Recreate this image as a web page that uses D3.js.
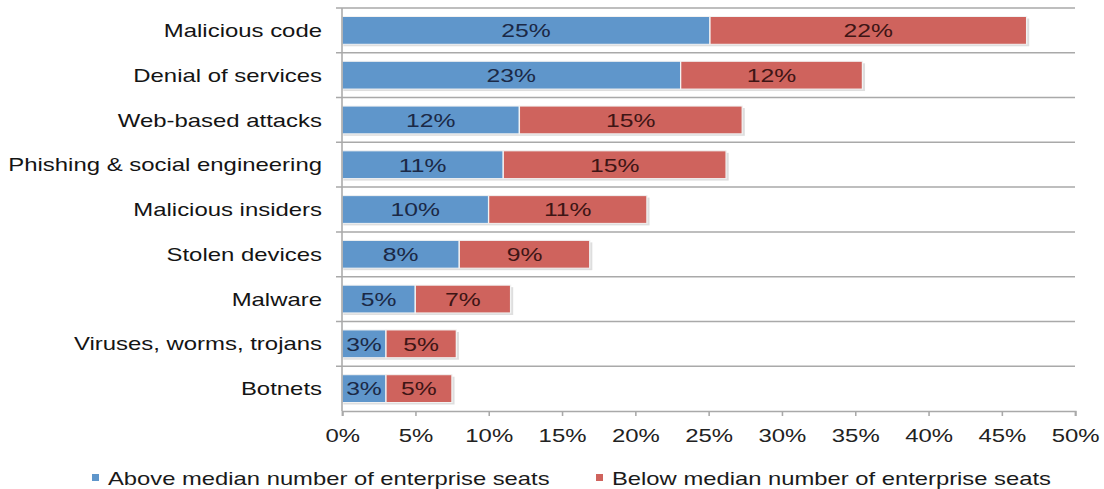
<!DOCTYPE html>
<html lang="en">
<head>
    <meta charset="UTF-8">
    <title>Security threats by enterprise size</title>
    <script src="https://d3js.org/d3.v7.min.js"></script>
    <style>
        body { margin: 0; background: #fff; }
        svg { display: block; }
        text { font-family: "Liberation Sans", Arial, sans-serif; }
    </style>
</head>
<body>
    <svg id="chart"></svg>
    <script>
        const categories = ["Malicious code", "Denial of services", "Web-based attacks",
            "Phishing & social engineering", "Malicious insiders", "Stolen devices",
            "Malware", "Viruses, worms, trojans", "Botnets"];
        const aboveMedian = [25.1, 23.1, 12.1, 11.0, 10.0, 8.0, 5.0, 3.0, 3.0];
        const belowMedian = [21.6, 12.4, 15.2, 15.2, 10.8, 8.9, 6.5, 4.8, 4.5];
        const xTicks = [0, 5, 10, 15, 20, 25, 30, 35, 40, 45, 50];
        const seriesNames = ["Above median number of enterprise seats", "Below median number of enterprise seats"];
        const colors = ["#5f96cb", "#cf635d"];
        const labelColors = ["#1b2946", "#3e1515"];

        // the original is horizontally stretched, so draw narrow and stretch the viewBox
        const sx = 1.3;
        const width = 1104 / sx, height = 489;
        const svg = d3.select("#chart")
            .attr("width", 1104).attr("height", height)
            .attr("viewBox", `0 0 ${width} ${height}`)
            .attr("preserveAspectRatio", "none");

        const plotLeft = 342 / sx, plotRight = 1075 / sx, plotTop = 8, plotBottom = 411;

        const x = d3.scaleLinear().domain([0, 50]).range([plotLeft, plotRight]);
        const y = d3.scaleBand().domain(categories).range([plotTop, plotBottom])
            .paddingInner(0.38).paddingOuter(0.19);
        const step = y.step();

        // horizontal grid lines at row boundaries
        const bounds = d3.range(categories.length).map(i => plotTop + i * step);
        svg.append("g").selectAll("line").data(bounds).join("line")
            .attr("x1", plotLeft - 6 / sx).attr("x2", plotRight)
            .attr("y1", d => d).attr("y2", d => d)
            .attr("stroke", "#a9a9a9").attr("stroke-width", 1.5);

        // bar shadows
        svg.append("g").selectAll("rect").data(categories).join("rect")
            .attr("x", x(0) + 1)
            .attr("y", d => y(d) + 2)
            .attr("width", (d, i) => x(aboveMedian[i] + belowMedian[i]) - x(0) + 1)
            .attr("height", y.bandwidth())
            .attr("fill", "#c8c8c8").attr("opacity", 0.6);

        const stacks = [
            categories.map((c, i) => ({ c, x0: 0, x1: aboveMedian[i], v: aboveMedian[i] })),
            categories.map((c, i) => ({ c, x0: aboveMedian[i], x1: aboveMedian[i] + belowMedian[i], v: belowMedian[i] }))
        ];

        stacks.forEach((rows, s) => {
            const g = svg.append("g");
            g.selectAll("rect").data(rows).join("rect")
                .attr("x", d => x(d.x0))
                .attr("y", d => y(d.c))
                .attr("width", d => x(d.x1) - x(d.x0))
                .attr("height", y.bandwidth())
                .attr("fill", colors[s])
                .attr("stroke", "#f2f2f2").attr("stroke-width", 1);
            g.selectAll("text").data(rows).join("text")
                .attr("x", d => x((d.x0 + d.x1) / 2))
                .attr("y", d => y(d.c) + y.bandwidth() / 2)
                .attr("dy", "0.36em")
                .attr("text-anchor", "middle")
                .attr("font-size", 19)
                .attr("fill", labelColors[s])
                .text(d => Math.round(d.v) + "%");
        });

        // y axis line
        svg.append("line")
            .attr("x1", plotLeft).attr("x2", plotLeft).attr("y1", plotTop).attr("y2", plotBottom)
            .attr("stroke", "#a9a9a9").attr("stroke-width", 1.2);

        // category labels
        svg.append("g").selectAll("text").data(categories).join("text")
            .attr("x", plotLeft - 20 / sx)
            .attr("y", d => y(d) + y.bandwidth() / 2)
            .attr("dy", "0.36em")
            .attr("text-anchor", "end")
            .attr("font-size", 18.4)
            .attr("fill", "#141414")
            .text(d => d);

        // x axis
        const xAxis = svg.append("g")
            .attr("transform", `translate(0,${plotBottom})`)
            .call(d3.axisBottom(x).tickValues(xTicks).tickSize(5).tickPadding(13)
                .tickFormat(d => d + "%"));
        xAxis.select(".domain").attr("stroke", "#a9a9a9").attr("stroke-width", 1.5);
        xAxis.selectAll(".tick line").attr("stroke", "#a9a9a9").attr("stroke-width", 1.2);
        xAxis.selectAll(".tick text")
            .attr("font-family", "Liberation Sans, Arial, sans-serif")
            .attr("font-size", 18.4).attr("fill", "#222");

        // legend
        const legendX = [92 / sx, 596 / sx];
        const legend = svg.append("g").selectAll("g").data(seriesNames).join("g")
            .attr("transform", (d, i) => `translate(${legendX[i]},478)`);
        legend.append("rect")
            .attr("x", 0).attr("y", -4).attr("width", 7 / sx).attr("height", 7)
            .attr("fill", (d, i) => colors[i]);
        legend.append("text")
            .attr("x", 16 / sx).attr("y", 0).attr("dy", "0.4em")
            .attr("font-size", 18.3).attr("fill", "#1a1a1a")
            .text(d => d);
    </script>
</body>
</html>
